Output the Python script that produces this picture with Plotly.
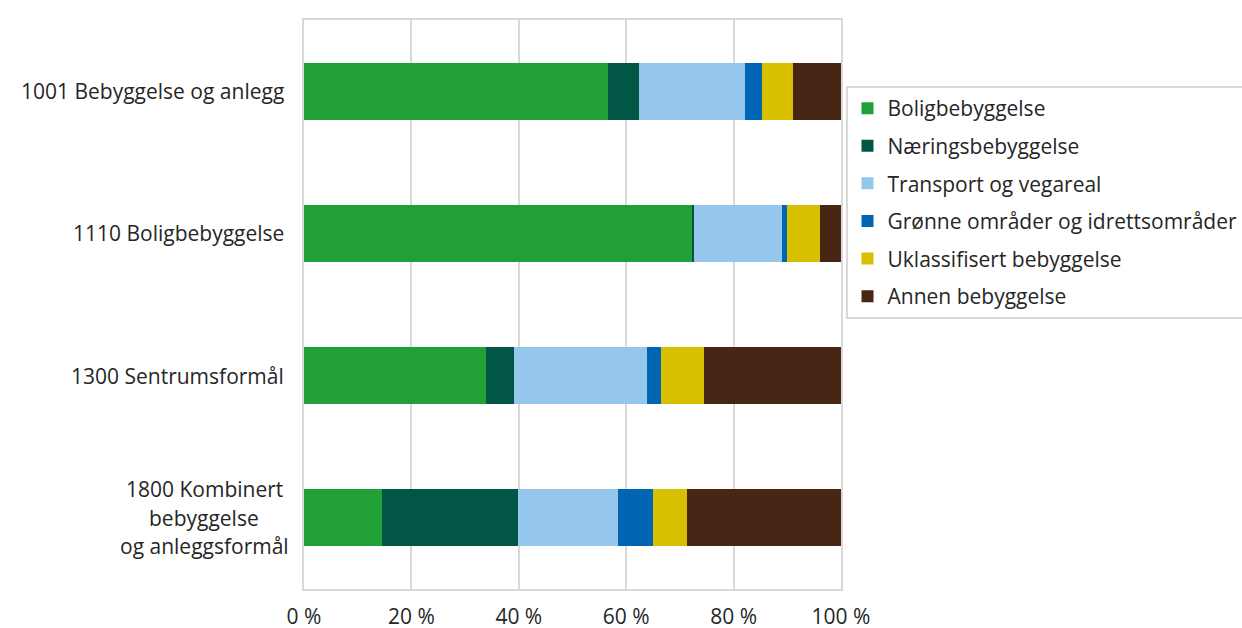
import plotly.graph_objects as go

categories = ["1001 Bebyggelse og anlegg", "1110 Boligbebyggelse", "1300 Sentrumsformål",
              "1800 Kombinert<br>bebyggelse<br>og anleggsformål"]
series_names = ["Boligbebyggelse", "Næringsbebyggelse", "Transport og vegareal",
                "Grønne områder og idrettsområder", "Uklassifisert bebyggelse", "Annen bebyggelse"]
boligbebyggelse = [56.7, 72.2, 33.9, 14.6]
naeringsbebyggelse = [5.6, 0.4, 5.2, 25.2]
transport = [19.9, 16.5, 24.8, 18.6]
gronne = [3.1, 0.8, 2.6, 6.5]
uklassifisert = [5.7, 6.1, 7.9, 6.5]
annen = [9.0, 4.0, 25.6, 28.6]
tick_values = [0, 20, 40, 60, 80, 100]
tick_labels = ["0 %", "20 %", "40 %", "60 %", "80 %", "100 %"]

series_values = [boligbebyggelse, naeringsbebyggelse, transport, gronne, uklassifisert, annen]
colors = ["#21A038", "#025645", "#95C6EB", "#0065B2", "#D8BF00", "#472615"]

FONT = "Open Sans"
FS = 21
TXT = "#262626"
GRID = "#D9D9D9"

fig = go.Figure()
for name, vals, col in zip(series_names, series_values, colors):
    fig.add_trace(go.Bar(
        x=vals, y=categories, name=name, orientation="h",
        marker=dict(color=col, line=dict(width=0)),
        legendgroup=name,
    ))

# category labels as centered multi-line annotations
for cat in categories:
    lines = cat.split("<br>")
    n = len(lines)
    for i, ln in enumerate(lines):
        if n > 1:
            fig.add_annotation(
                x=0, xref="paper", y=cat, yref="y",
                text=ln, showarrow=False,
                xanchor="center", yanchor="middle",
                xshift=-100, yshift=-(i - (n - 1) / 2) * 28.5,
                font=dict(family=FONT, size=FS, color=TXT),
            )
        else:
            fig.add_annotation(
                x=0, xref="paper", y=cat, yref="y",
                text=ln, showarrow=False,
                xanchor="right", yanchor="middle", xshift=-18,
                font=dict(family=FONT, size=FS, color=TXT),
            )

fig.update_layout(
    barmode="stack",
    bargap=0.6,
    width=1242, height=628,
    margin=dict(l=303.5, r=400.5, t=19.5, b=38.5, autoexpand=False),
    paper_bgcolor="white", plot_bgcolor="white",
    font=dict(family=FONT, size=FS, color=TXT),
    showlegend=True,
    legend=dict(
        x=1.0084, xanchor="left", y=0.884, yanchor="top",
        traceorder="grouped", tracegroupgap=7.3,
        bordercolor=GRID, borderwidth=2,
        font=dict(family=FONT, size=FS, color=TXT),
        itemclick=False, itemdoubleclick=False,
    ),
    xaxis=dict(
        range=[0, 100], tickmode="array", tickvals=tick_values, ticktext=tick_labels,
        showgrid=True, gridcolor=GRID, gridwidth=2,
        showline=True, linecolor=GRID, linewidth=2, mirror=True,
        zeroline=False, ticks="", ticklabelstandoff=8,
        tickfont=dict(family=FONT, size=FS, color=TXT),
        fixedrange=True,
    ),
    yaxis=dict(
        autorange="reversed", showticklabels=False, showgrid=False,
        showline=True, linecolor=GRID, linewidth=2, mirror=True,
        ticks="", fixedrange=True,
    ),
)

fig.write_html("out.html", config={"displayModeBar": False},
               post_script="document.body.style.margin='0';document.body.style.overflow='hidden';")
